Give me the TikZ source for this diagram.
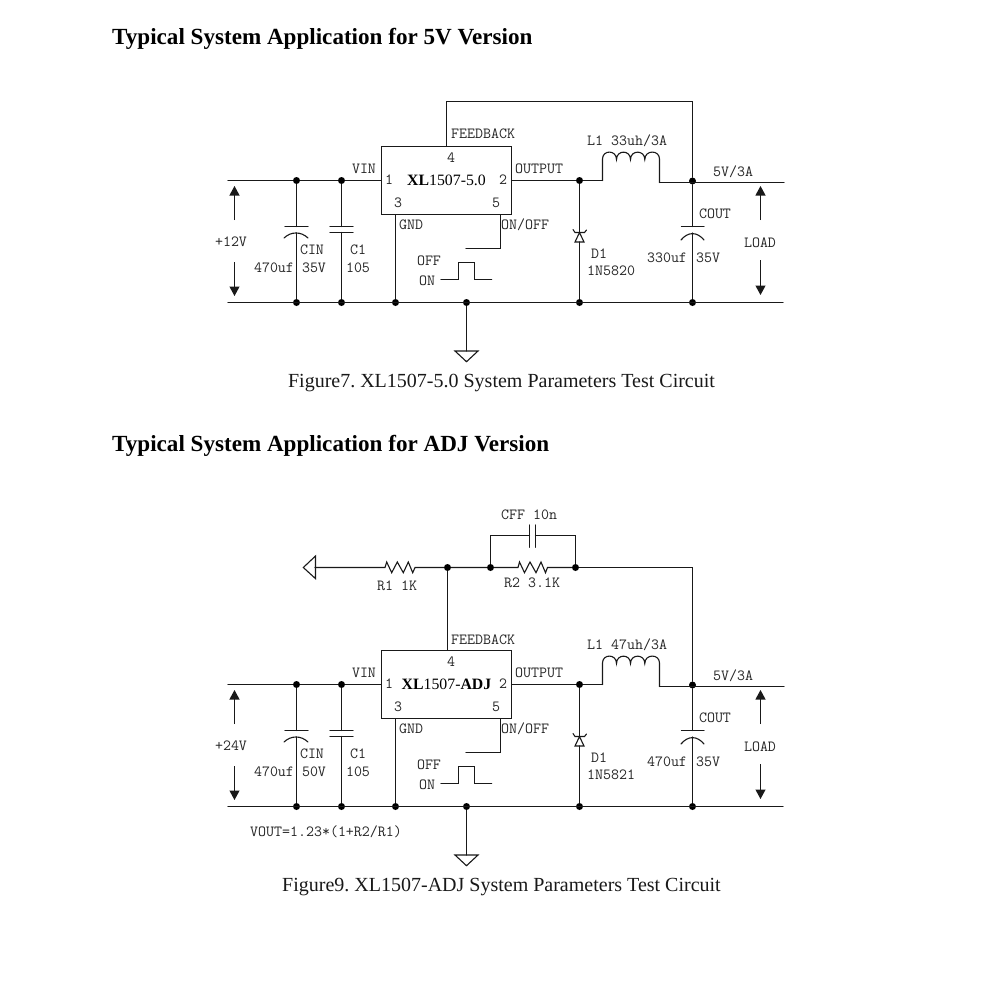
\documentclass[tikz,border=0pt]{standalone}
\usepackage{fontspec}
\setmainfont{Liberation Serif}
\usetikzlibrary{arrows.meta}
\tikzset{
  wire/.style={line width=1.1pt,draw=black!90,line cap=round},
  dot/.style={circle,fill=black,draw=none,inner sep=0pt,minimum size=7pt},
  lbl/.style={inner sep=0pt,font=\fontsize{15.5}{15.5}\selectfont\ttfamily,text=black!85},
  llbl/.style={lbl,anchor=west},
  heading/.style={inner sep=0pt,anchor=west,font=\fontsize{23.1}{23}\selectfont\bfseries},
  caption/.style={inner sep=0pt,font=\fontsize{20}{20}\selectfont\frenchspacing,text=black!90},
  icbox/.style={draw=black!90,line width=1.1pt,minimum width=130pt,minimum height=68pt,inner sep=0pt,font=\fontsize{15.8}{16}\selectfont},
  varrow/.style={line width=1.1pt,draw=black!90,-{Triangle[width=10pt,length=9.5pt]}},
  gnd/.style={draw=black!90,line width=1.1pt,line join=miter},
}
\newcommand{\inductor}[1]{%
  \draw[wire] (#1a) -- (602.5,159)
    .. controls (602.5,149.7) and (616.5,149.7) .. (616.5,159.5)
    .. controls (616.5,149.7) and (630.5,149.7) .. (630.5,159.5)
    .. controls (630.5,149.7) and (644.8,149.7) .. (644.8,159.5)
    .. controls (644.8,149.7) and (659.5,149.7) .. (659.5,159)
    -- (#1b);}
\newcommand{\xlcircuit}[7]{%
  % #1 prefix, #2 IC text, #3 input, #4 CIN rating, #5 L1, #6 diode, #7 Cout value
  \node[icbox] (#1ic) at (446.5,180.5) {#2};
  \node[lbl] (#1p1) at (389,180) {1};
  \node[lbl] (#1p2) at (503,180) {2};
  \node[lbl] (#1p3) at (398,203) {3};
  \node[lbl] (#1p4) at (451,158) {4};
  \node[lbl] (#1p5) at (496,203) {5};
  \coordinate (#1inL) at (228,180.5);
  \coordinate (#1botL) at (228,302.5);
  \coordinate (#1botR) at (783,302.5);
  \coordinate (#1outR) at (784,182.5);
  \coordinate (#1rj) at (692.5,182.5);
  \node[dot] (#1d1) at (296.5,180.5) {};
  \node[dot] (#1d2) at (341.5,180.5) {};
  \node[dot] (#1d3) at (296.5,302.5) {};
  \node[dot] (#1d4) at (341.5,302.5) {};
  \node[dot] (#1d5) at (395.5,302.5) {};
  \node[dot] (#1d6) at (466.5,302.5) {};
  \node[dot] (#1d7) at (579.5,180.5) {};
  \node[dot] (#1d8) at (579.5,302.5) {};
  \node[dot] (#1d9) at (692.5,181) {};
  \node[dot] (#1d10) at (692.5,302.5) {};
  \draw[wire] (#1inL) -- (#1d1) -- (#1d2) -- (#1d2 -| #1ic.west);
  \draw[wire] (#1botL) -- (#1botR);
  \draw[wire] (#1d7 -| #1ic.east) -- (#1d7);
  % input capacitors
  \coordinate (#1cinT) at (296.5,226.5);
  \coordinate (#1cinB) at (296.5,233);
  \draw[wire] (#1d1) -- (#1cinT);
  \draw[wire] (285,226.5) -- (308,226.5);
  \draw[wire] (284,238) .. controls (291,231.3) and (301,231.3) .. (308,238);
  \draw[wire] (#1cinB) -- (#1d3);
  \coordinate (#1c1T) at (341.5,226.5);
  \coordinate (#1c1B) at (341.5,232.5);
  \draw[wire] (#1d2) -- (#1c1T);
  \draw[wire] (330,226.5) -- (353,226.5);
  \draw[wire] (330,232.5) -- (353,232.5);
  \draw[wire] (#1c1B) -- (#1d4);
  % ground
  \draw[wire] (#1d5 |- #1ic.south) -- (#1d5);
  \coordinate (#1gt) at (466.5,351);
  \draw[wire] (#1d6) -- (#1gt);
  \draw[gnd] (455,351) -- (478,351) -- (466.5,361.7) -- cycle;
  % on/off
  \coordinate (#1oo) at (500.5,248.5);
  \draw[wire] (#1oo |- #1ic.south) -- (#1oo) -- (466,248.5);
  \draw[wire] (441,279.5) -- (458.5,279.5) -- (458.5,262.5) -- (474.5,262.5) -- (474.5,279.5) -- (491.7,279.5);
  % inductor
  \coordinate (#1la) at (602.5,180.5);
  \coordinate (#1lb) at (659.5,182.5);
  \draw[wire] (#1d7) -- (#1la);
  \inductor{#1l}
  \draw[wire] (#1lb) -- (#1rj) -- (#1outR);
  % diode
  \coordinate (#1dT) at (579.5,232.5);
  \coordinate (#1dB) at (579.5,242);
  \draw[wire] (#1d7) -- (#1dT);
  \draw[wire] (#1dB) -- (#1d8);
  \draw[gnd] (#1dT) -- (584,242) -- (575,242) -- cycle;
  \draw[wire] (573,229.5) -- (575,232.5) -- (584.5,232.5) -- (586.5,230);
  % output capacitor
  \coordinate (#1coT) at (692.5,226.5);
  \coordinate (#1coB) at (692.5,233);
  \draw[wire] (#1d9) -- (#1coT);
  \draw[wire] (681.5,226.5) -- (704,226.5);
  \draw[wire] (681,240) .. controls (688,231.5) and (697,231.5) .. (704,240);
  \draw[wire] (#1coB) -- (#1d10);
  % arrows
  \coordinate (#1a1) at (234.5,220); \coordinate (#1a2) at (234.5,186);
  \coordinate (#1a3) at (234.5,262); \coordinate (#1a4) at (234.5,296);
  \coordinate (#1a5) at (760.5,220); \coordinate (#1a6) at (760.5,186);
  \coordinate (#1a7) at (760.5,260); \coordinate (#1a8) at (760.5,295);
  \draw[varrow] (#1a1) -- (#1a2);
  \draw[varrow] (#1a3) -- (#1a4);
  \draw[varrow] (#1a5) -- (#1a6);
  \draw[varrow] (#1a7) -- (#1a8);
  % labels
  \node[lbl] (#1t2) at (364,169) {VIN};
  \node[llbl] (#1t3) at (515,169) {OUTPUT};
  \node[llbl] (#1t4) at (399,225) {GND};
  \node[llbl] (#1t5) at (501,225) {ON/OFF};
  \node[lbl] (#1t6) at (429,261) {OFF};
  \node[lbl] (#1t7) at (427,281) {ON};
  \node[lbl] (#1t8) at (231,242) {#3};
  \node[lbl] (#1t9) at (312,250) {CIN};
  \node[lbl] (#1t10) at (274,268) {470uf};
  \node[lbl] (#1t11) at (314,268) {#4};
  \node[lbl] (#1t12) at (358,250) {C1};
  \node[lbl] (#1t13) at (358,268) {105};
  \node[llbl] (#1t14) at (587,141) {L1 #5};
  \node[llbl] (#1t15) at (713,172) {5V/3A};
  \node[llbl] (#1t16) at (591,254) {D1};
  \node[llbl] (#1t17) at (587,271) {#6};
  \node[lbl] (#1t18) at (715,214) {COUT};
  \node[lbl] (#1t19) at (667,258) {#7};
  \node[lbl] (#1t20) at (708,258) {35V};
  \node[lbl] (#1t21) at (760,243) {LOAD};
}
\begin{document}
\begin{tikzpicture}[x=1pt,y=-1pt]
  \path[fill=white] (0,0) rectangle (991,993);
  \useasboundingbox (0,0) rectangle (991,993);
  \node[heading] (h1) at (112,38.5) {Typical System Application for 5V Version};
  \xlcircuit{a}{\textbf{XL}1507-5.0}{+12V}{35V}{33uh/3A}{1N5820}{330uf}
  \node[llbl] (afb) at (451,134) {FEEDBACK};
  \coordinate (afbT) at (446.5,101.5);
  \draw[wire] (afbT |- aic.north) -- (afbT) -- (afbT -| ad9) -- (ad9);
  \node[caption] (c1) at (501.5,383) {Figure7. XL1507-5.0 System Parameters Test Circuit};

  \node[heading] (h2) at (112,445.5) {Typical System Application for ADJ Version};
  \begin{scope}[shift={(0,504)}]
    \xlcircuit{b}{\textbf{XL}1507-\textbf{ADJ}}{+24V}{50V}{47uh/3A}{1N5821}{470uf}
  \end{scope}
  \node[llbl] (bfb) at (451,639.5) {FEEDBACK};
  \node[dot] (j1) at (447.5,567.5) {};
  \node[dot] (j2) at (490.5,567.5) {};
  \node[dot] (j3) at (575.5,567.5) {};
  \coordinate (gl) at (315,567.5);
  \draw[gnd] (315.5,556) -- (303.3,567.5) -- (315.5,578.6) -- cycle;
  \draw[wire] (gl) -- (385,567.5) -- (386.7,562) -- (391.7,572.7) -- (397.3,562) -- (403.3,572.7) -- (408.3,562) -- (412.7,572.7) -- (415,567.5) -- (j1);
  \draw[wire] (j1) -- (j2) -- (518,567.5) -- (519.5,562) -- (524.5,572.7) -- (530,562) -- (536,572.7) -- (541,562) -- (545.5,572.7) -- (547.5,567.5) -- (j3);
  \draw[wire] (j3) -- (bd9 |- j3) -- (bd9);
  \draw[wire] (j1) -- (j1 |- bic.north);
  \coordinate (cfa) at (529.5,535.5);
  \coordinate (cfb) at (535.5,535.5);
  \draw[wire] (j2) -- (j2 |- cfa) -- (cfa);
  \draw[wire] (j3) -- (j3 |- cfb) -- (cfb);
  \draw[wire] (529.5,525) -- (529.5,547.3);
  \draw[wire] (535.5,525) -- (535.5,547.3);
  \node[llbl] (cff) at (501,515) {CFF 10n};
  \node[llbl] (r1) at (377,586) {R1 1K};
  \node[llbl] (r2) at (504,583) {R2 3.1K};
  \node[llbl] (vo) at (250,831.5) {VOUT=1.23*(1+R2/R1)};
  \node[caption] (c2) at (501.5,887) {Figure9. XL1507-ADJ System Parameters Test Circuit};
\end{tikzpicture}
\end{document}
